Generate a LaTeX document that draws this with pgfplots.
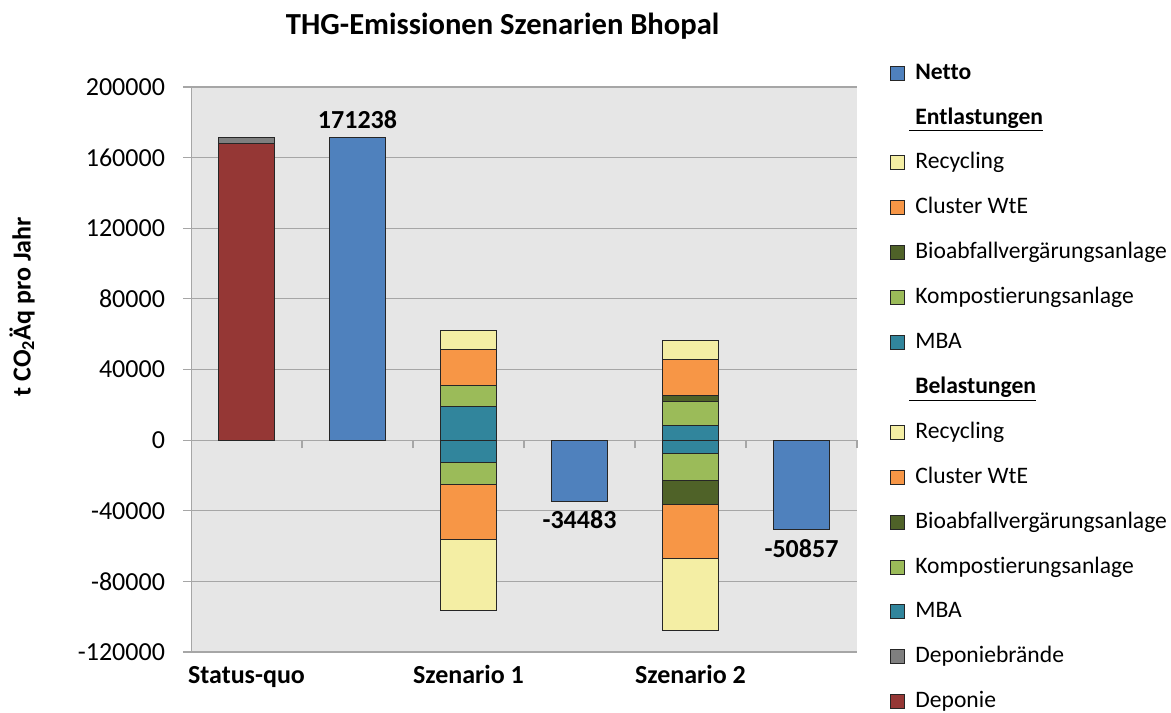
\documentclass[border=0pt]{standalone}
\usepackage{fontspec}
\setmainfont{Carlito}[Ligatures=CommonOff]
\usepackage{pgfplots}
\pgfplotsset{compat=1.18}

\definecolor{nettoblue}{HTML}{4F81BD}
\definecolor{recy}{HTML}{F4EEA4}
\definecolor{wte}{HTML}{F79646}
\definecolor{bio}{HTML}{4F6228}
\definecolor{komp}{HTML}{9BBB59}
\definecolor{mba}{HTML}{31859C}
\definecolor{brand}{HTML}{7F7F7F}
\definecolor{depo}{HTML}{953735}
\definecolor{plotbg}{HTML}{E6E6E6}
\definecolor{gridc}{HTML}{A6A6A6}

\pgfplotsset{
  geom/.style={scale only axis, width=333pt, height=282.5pt,
    xmin=-0.5, xmax=5.5, ymin=-120000, ymax=200000, enlargelimits=false},
  stackbar/.style={hide axis, ybar stacked, bar width=0.5,
    every axis plot/.append style={draw=black!85, line width=0.5pt}},
}

\begin{document}
\fontsize{13}{15.6}\selectfont
\begin{tikzpicture}
\path[use as bounding box] (-95.5pt,-30pt) rectangle (490pt,326pt);

% axis, grid, netto bars, legend
\begin{axis}[geom, clip=false,
  axis background/.style={fill=plotbg},
  axis x line=middle, axis y line=left,
  axis line style={draw=gridc, -},
  ytick={-120000,-80000,...,200000},
  ymajorgrids, grid style={draw=gridc, line width=0.6pt},
  xtick={0.5,1.5,...,5.5}, xticklabels={},
  tick align=outside, major tick length=4pt,
  tick style={draw=gridc, line width=0.6pt},
  yticklabel style={xshift=-4.5pt},
  scaled y ticks=false,
  /pgf/number format/fixed,
  /pgf/number format/1000 sep={},
  /pgf/number format/assume math mode=true,
  legend image code/.code={\draw[#1, draw=black!85, line width=0.5pt] (0pt,-3.5pt) rectangle (7pt,3.5pt);},
  legend style={draw=none, fill=none, at={(axis description cs:1.0405,1.0535)},
    anchor=north west, cells={anchor=west}, row sep=10.45pt, column sep=5pt,
    font=\fontsize{11.8}{14}\selectfont,
    nodes={inner sep=0pt, text height=9pt, text depth=3pt}},
]
\addplot[ybar, bar width=0.5, bar shift=0pt, fill=nettoblue, draw=black!85,
  line width=0.5pt, forget plot, nodes near coords,
  nodes near coords style={font=\bfseries, text=black}]
  coordinates {(1,171238) (3,-34483) (5,-50857)};

\addlegendimage{fill=nettoblue}\addlegendentry{\textbf{Netto}}
\addlegendimage{empty legend}\addlegendentry{\hspace*{-3pt}\textbf{\underline{\hspace{3pt}Entlastungen}}}
\addlegendimage{fill=recy}\addlegendentry{Recycling}
\addlegendimage{fill=wte}\addlegendentry{Cluster WtE}
\addlegendimage{fill=bio}\addlegendentry{Bioabfallvergärungsanlage}
\addlegendimage{fill=komp}\addlegendentry{Kompostierungsanlage}
\addlegendimage{fill=mba}\addlegendentry{MBA}
\addlegendimage{empty legend}\addlegendentry{\hspace*{-3pt}\textbf{\underline{\hspace{3pt}Belastungen}}}
\addlegendimage{fill=recy}\addlegendentry{Recycling}
\addlegendimage{fill=wte}\addlegendentry{Cluster WtE}
\addlegendimage{fill=bio}\addlegendentry{Bioabfallvergärungsanlage}
\addlegendimage{fill=komp}\addlegendentry{Kompostierungsanlage}
\addlegendimage{fill=mba}\addlegendentry{MBA}
\addlegendimage{fill=brand}\addlegendentry{Deponiebrände}
\addlegendimage{fill=depo}\addlegendentry{Deponie}

\node[font=\bfseries, anchor=base, yshift=-15.5pt] at (axis cs:0,-120000) {Status-quo};
\node[font=\bfseries, anchor=base, yshift=-15.5pt] at (axis cs:2,-120000) {Szenario 1};
\node[font=\bfseries, anchor=base, yshift=-15.5pt] at (axis cs:4,-120000) {Szenario 2};
\node[font=\fontsize{15.3}{18}\bfseries\selectfont, anchor=base, yshift=26pt]
  at (rel axis cs:0.468,1) {THG-Emissionen Szenarien Bhopal};
\node[font=\bfseries, rotate=90] at ([xshift=-84.5pt]rel axis cs:0,0.611)
  {t CO\textsubscript{2}Äq pro Jahr};
\end{axis}

% Belastungen (positive stack)
\begin{axis}[geom, stackbar]
\addplot[fill=depo]  coordinates {(0,168000) (2,0) (4,0)};
\addplot[fill=brand] coordinates {(0,3238) (2,0) (4,0)};
\addplot[fill=mba]   coordinates {(0,0) (2,19100) (4,8300)};
\addplot[fill=komp]  coordinates {(0,0) (2,11700) (4,13800)};
\addplot[fill=bio]   coordinates {(0,0) (2,0) (4,3400)};
\addplot[fill=wte]   coordinates {(0,0) (2,20600) (4,20000)};
\addplot[fill=recy]  coordinates {(0,0) (2,10800) (4,11200)};
\end{axis}

% Entlastungen (negative stack)
\begin{axis}[geom, stackbar]
\addplot[fill=mba]  coordinates {(2,-12400) (4,-7760)};
\addplot[fill=komp] coordinates {(2,-12900) (4,-15300)};
\addplot[fill=bio]  coordinates {(2,0) (4,-13400)};
\addplot[fill=wte]  coordinates {(2,-31200) (4,-30400)};
\addplot[fill=recy] coordinates {(2,-40183) (4,-40697)};
\end{axis}
\end{tikzpicture}
\end{document}
